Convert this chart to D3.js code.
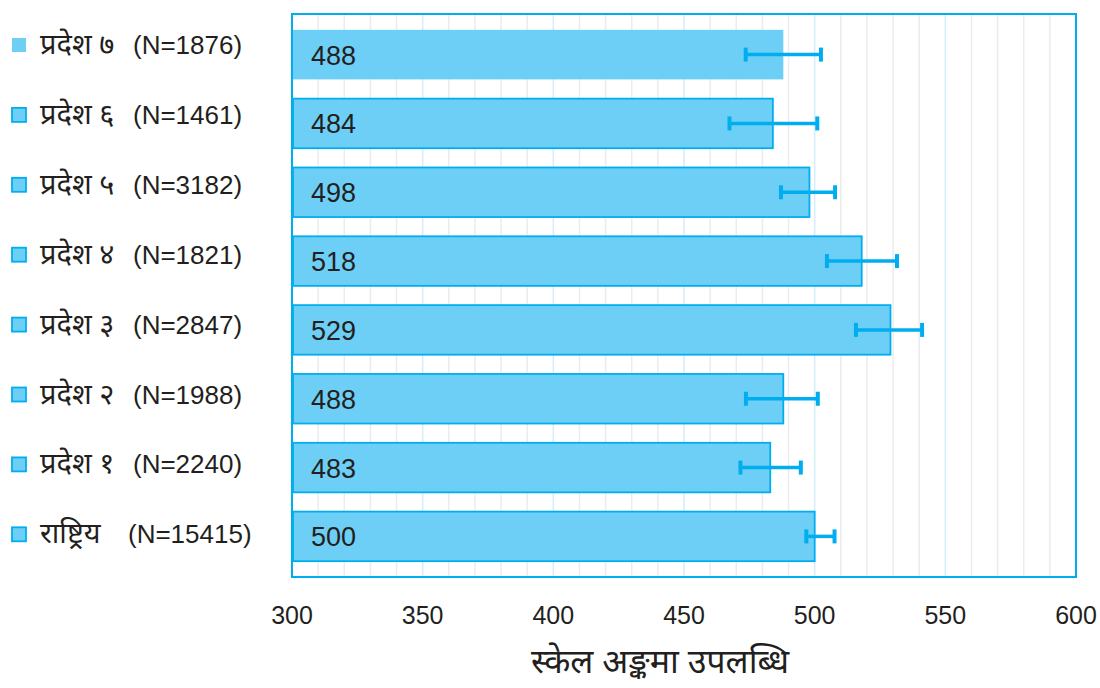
<!DOCTYPE html>
<html>
<head>
<meta charset="utf-8">
<script src="https://cdn.jsdelivr.net/npm/d3@7"></script>
<style>
  body { margin: 0; background: #fff; }
  svg { display: block; }
</style>
</head>
<body>
<svg width="1100" height="688"></svg>
<script>
let regions = ["प्रदेश ७", "प्रदेश ६", "प्रदेश ५", "प्रदेश ४", "प्रदेश ३", "प्रदेश २", "प्रदेश १", "राष्ट्रिय"]
let counts = ["(N=1876)", "(N=1461)", "(N=3182)", "(N=1821)", "(N=2847)", "(N=1988)", "(N=2240)", "(N=15415)"]
let scores = [488, 484, 498, 518, 529, 488, 483, 500]
let errLow = [473.6, 467.4, 487.1, 504.7, 515.8, 473.7, 471.6, 496.8]
let errHigh = [502.4, 501.0, 507.8, 531.5, 541.1, 501.2, 494.7, 507.6]
let xTicks = [300, 350, 400, 450, 500, 550, 600]
let axisTitle = "स्केल अङ्कमा उपलब्धि"

let devFont = "'Noto Sans Devanagari', 'Lohit Devanagari', 'Noto Sans', sans-serif"
let numFont = "'Liberation Sans', Arial, sans-serif"
let fillBlue = "#6dcff6", lineBlue = "#00aeef"

let plot = { left: 292, right: 1076, top: 14, bottom: 577 }

let svg = d3.select("svg")

let x = d3.scaleLinear().domain([300, 600]).range([plot.left, plot.right])
let y = d3.scaleBand().domain(regions).range([plot.top, plot.bottom])
    .paddingInner(0.28).paddingOuter(0.23)

// gridlines every 10, bluish on the 50s
svg.append("g").selectAll("line")
    .data(d3.range(310, 600, 10))
    .join("line")
    .attr("x1", d => x(d)).attr("x2", d => x(d))
    .attr("y1", plot.top).attr("y2", plot.bottom)
    .attr("stroke", d => d % 50 === 0 ? "#d3edf9" : "#ececec")
    .attr("stroke-width", 1.5)

// bars
svg.append("g").selectAll("rect")
    .data(regions)
    .join("rect")
    .attr("x", x(300) + 1)
    .attr("y", d => y(d))
    .attr("width", (d, i) => x(scores[i]) - x(300) - 1)
    .attr("height", y.bandwidth())
    .attr("fill", fillBlue)
    .attr("stroke", (d, i) => i === 0 ? "none" : lineBlue)
    .attr("stroke-width", 1.8)

// value labels
svg.append("g").selectAll("text")
    .data(regions)
    .join("text")
    .attr("x", x(300) + 19)
    .attr("y", d => y(d) + y.bandwidth() / 2 + 10)
    .attr("font-family", numFont)
    .attr("font-size", 27)
    .attr("fill", "#231f20")
    .text((d, i) => scores[i])

// error bars
let eb = svg.append("g").attr("stroke", lineBlue)
regions.forEach((r, i) => {
    let cy = y(r) + y.bandwidth() / 2
    eb.append("line")
        .attr("x1", x(errLow[i])).attr("x2", x(errHigh[i]))
        .attr("y1", cy).attr("y2", cy)
        .attr("stroke-width", 3.5)
    ;[errLow[i], errHigh[i]].forEach(v => {
        eb.append("line")
            .attr("x1", x(v)).attr("x2", x(v))
            .attr("y1", cy - 7).attr("y2", cy + 7)
            .attr("stroke-width", 4)
    })
})

// frame
svg.append("rect")
    .attr("x", plot.left).attr("y", plot.top)
    .attr("width", plot.right - plot.left).attr("height", plot.bottom - plot.top)
    .attr("fill", "none")
    .attr("stroke", lineBlue)
    .attr("stroke-width", 2)

// x tick labels
svg.append("g").selectAll("text")
    .data(xTicks)
    .join("text")
    .attr("x", d => x(d))
    .attr("y", 624)
    .attr("text-anchor", "middle")
    .attr("font-family", numFont)
    .attr("font-size", 25)
    .attr("fill", "#231f20")
    .text(d => d)

// axis title
svg.append("text")
    .attr("x", 660)
    .attr("y", 673)
    .attr("text-anchor", "middle")
    .attr("font-family", devFont)
    .attr("font-size", 34)
    .attr("fill", "#231f20")
    .text(axisTitle)

// legend on the left
let legStep = 69.9
let leg = svg.append("g")
regions.forEach((r, i) => {
    let cy = 45 + i * legStep
    leg.append("rect")
        .attr("x", 12).attr("y", cy - 7)
        .attr("width", 14).attr("height", 14)
        .attr("fill", fillBlue)
        .attr("stroke", i === 0 ? "none" : lineBlue)
        .attr("stroke-width", 1.8)
    leg.append("text")
        .attr("x", 40).attr("y", cy + 9)
        .attr("font-family", devFont)
        .attr("font-size", 29)
        .attr("fill", "#231f20")
        .text(r)
    leg.append("text")
        .attr("x", i === regions.length - 1 ? 128 : 133).attr("y", cy + 9)
        .attr("font-family", numFont)
        .attr("font-size", 26)
        .attr("fill", "#231f20")
        .text(counts[i])
})
</script>
</body>
</html>
